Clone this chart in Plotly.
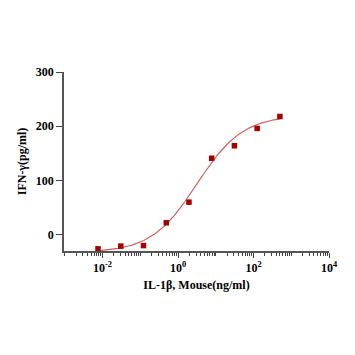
import numpy as np
import plotly.graph_objects as go

# Measured data (IL-1β, Mouse in ng/ml vs IFN-γ in pg/ml)
conc = [0.0076, 0.0305, 0.122, 0.49, 1.95, 7.8, 31.25, 125, 500]
ifn = [-26, -21, -20, 22, 60, 141, 164, 196, 218]

# 4-parameter logistic fit parameters (estimated from the fitted curve)
fit_bottom = -33
fit_top = 220
fit_log_ec50 = 0.5
fit_hill = 0.72

x_tick_vals = [1e-2, 1, 1e2, 1e4]
x_tick_text = ["10<sup>-2</sup>", "10<sup>0</sup>", "10<sup>2</sup>", "10<sup>4</sup>"]
y_tick_vals = [0, 100, 200, 300]

lx = np.linspace(np.log10(conc[0]), np.log10(conc[-1]), 300)
fit_y = fit_bottom + (fit_top - fit_bottom) / (1 + 10 ** (fit_hill * (fit_log_ec50 - lx)))
fit_x = 10 ** lx

minor_vals = []
for d in range(-3, 4):
    for m in range(1, 10):
        v = m * 10.0 ** d
        if v not in x_tick_vals:
            minor_vals.append(v)

font_family = "Liberation Serif, Times New Roman, serif"

fig = go.Figure()
fig.add_trace(go.Scatter(x=fit_x, y=fit_y, mode="lines",
                         line=dict(color="#cd6060", width=1.2),
                         hoverinfo="skip", showlegend=False))
fig.add_trace(go.Scatter(x=conc, y=ifn, mode="markers",
                         marker=dict(symbol="square", size=5.5, color="#a30000"),
                         showlegend=False))

fig.update_layout(
    width=347, height=347,
    margin=dict(l=53, r=26, t=64, b=104),
    paper_bgcolor="white", plot_bgcolor="white",
    font=dict(family=font_family, color="black"),
)
fig.update_xaxes(
    type="log", range=[-3.02, 4.0],
    tickvals=x_tick_vals, ticktext=x_tick_text,
    ticks="outside", ticklen=5, tickwidth=1.2, tickcolor="#444",
    minor=dict(tickvals=minor_vals, ticks="outside", ticklen=3, tickwidth=1, tickcolor="#444", showgrid=False),
    showline=True, linecolor="#555", linewidth=1.5,
    showgrid=False, zeroline=False,
    tickfont=dict(size=12, family=font_family, weight="bold", color="black"),
    title=dict(text="IL-1β, Mouse(ng/ml)", standoff=6,
               font=dict(size=12, family=font_family, weight="bold", color="black")),
)
fig.update_yaxes(
    range=[-30, 300],
    tickvals=y_tick_vals,
    ticks="outside", ticklen=6, tickwidth=1.2, tickcolor="#444",
    showline=True, linecolor="#555", linewidth=1.5,
    showgrid=False, zeroline=False,
    tickfont=dict(size=12, family=font_family, weight="bold", color="black"),
    title=dict(text="IFN-γ(pg/ml)", standoff=7,
               font=dict(size=12, family=font_family, weight="bold", color="black")),
)

fig.write_html("out.html")
